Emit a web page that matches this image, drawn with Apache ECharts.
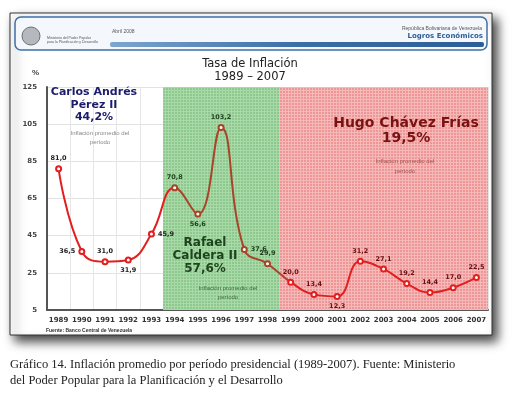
<!DOCTYPE html>
<html>
<head>
<meta charset="utf-8">
<script src="https://cdn.jsdelivr.net/npm/echarts@6/dist/echarts.min.js"></script>
<style>
  html, body { margin: 0; padding: 0; background: #fff; }
  #main { width: 516px; height: 396px; }
</style>
</head>
<body>
<div id="main"></div>
<script>
// datos
var years = ['1989','1990','1991','1992','1993','1994','1995','1996','1997','1998',
             '1999','2000','2001','2002','2003','2004','2005','2006','2007'];
var inflacion = [81.0, 36.5, 31.0, 31.9, 45.9, 70.8, 56.6, 103.2, 37.6, 29.9,
                 20.0, 13.4, 12.3, 31.2, 27.1, 19.2, 14.4, 17.0, 22.5];
var labelPos = ['top','left','top','bottom','right','top','bottom','top','right','top',
                'top','top','bottom','top','top','top','top','top','top'];
var yTicks = [5, 25, 45, 65, 85, 105, 125];
// periodos presidenciales (indice de inicio y fin de banda)
var periodoCaldera = [5, 10];
var periodoChavez = [10, 19];

function pattern(base, line) {
  var c = document.createElement('canvas');
  c.width = 3; c.height = 3;
  var ctx = c.getContext('2d');
  ctx.fillStyle = base; ctx.fillRect(0, 0, 3, 3);
  ctx.fillStyle = line;
  ctx.fillRect(0, 0, 3, 1);
  ctx.fillRect(0, 0, 1, 3);
  return c;
}

var myChart = echarts.init(document.getElementById('main'));

var labelColor = function (i) {
  if (i >= periodoCaldera[0] && i < periodoCaldera[1]) return '#1e3f1e';
  if (i >= periodoChavez[0]) return '#6a0f0f';
  return '#222';
};

var serieData = inflacion.map(function (v, i) {
  return {
    value: v,
    label: { position: labelPos[i], color: labelColor(i) }
  };
});

// texto centrado en (x, y)
function texto(x, y, txt, st) {
  var style = { text: txt, align: 'center', verticalAlign: 'middle', fontFamily: 'DejaVu Sans' };
  for (var k in st) style[k] = st[k];
  return { type: 'text', z: 10, x: x, y: y, style: style };
}

var option = {
  animation: false,
  backgroundColor: '#fff',
  grid: { left: 47, right: 28, top: 87, bottom: 86, containLabel: false },
  xAxis: [{
    type: 'category',
    data: years,
    boundaryGap: true,
    axisLine: { lineStyle: { color: '#555', width: 2 } },
    axisTick: { show: false },
    axisLabel: { interval: 0, color: '#333', fontSize: 7, fontWeight: 'bold', margin: 7, fontFamily: 'DejaVu Sans' },
    splitLine: { show: true, lineStyle: { color: '#e6e6e6' } }
  }, {
    type: 'value', min: 0, max: 19, show: false
  }],
  yAxis: {
    type: 'value',
    min: yTicks[0],
    max: yTicks[yTicks.length - 1],
    interval: 20,
    name: '%',
    nameLocation: 'end',
    nameGap: 10,
    nameTextStyle: { color: '#444', fontSize: 8, fontWeight: 'bold', align: 'right', padding: [0, 8, 0, 0] },
    axisLine: { show: true, lineStyle: { color: '#555', width: 2 } },
    axisTick: { show: false },
    axisLabel: { color: '#444', fontSize: 7, fontWeight: 'bold', margin: 10, fontFamily: 'DejaVu Sans' },
    splitLine: { lineStyle: { color: '#e2e2e2' } }
  },
  visualMap: {
    show: false,
    type: 'piecewise',
    dimension: 0,
    seriesIndex: 1,
    pieces: [
      { lt: 4.5, color: '#e41e1e' },
      { gte: 4.5, lt: 9.5, color: '#a8442a' },
      { gte: 9.5, color: '#e41e1e' }
    ]
  },
  series: [{
    type: 'line',
    xAxisIndex: 1,
    data: [],
    silent: true,
    z: 1,
    markArea: {
      silent: true,
      data: [
        [{ xAxis: periodoCaldera[0], itemStyle: { color: { image: pattern('#8dc88d', '#a9d9a9'), repeat: 'repeat' } } },
         { xAxis: periodoCaldera[1] }],
        [{ xAxis: periodoChavez[0], itemStyle: { color: { image: pattern('#ee9696', '#f6b9b9'), repeat: 'repeat' } } },
         { xAxis: periodoChavez[1] }]
      ]
    }
  }, {
    type: 'line',
    data: serieData,
    smooth: 0.45,
    z: 5,
    symbol: 'emptyCircle',
    symbolSize: 5,
    lineStyle: { width: 2 },
    itemStyle: { borderColor: '#d06060', color: '#f3c0c0', borderWidth: 1 },
    label: {
      show: true,
      fontSize: 6.5,
      fontWeight: 'bold',
      fontFamily: 'DejaVu Sans',
      distance: 3,
      formatter: function (p) { return p.value.toFixed(1).replace('.', ','); }
    }
  }],
  graphic: [
    // marco con sombra
    { type: 'rect', z: -10, shape: { x: 10, y: 13, width: 482, height: 322 },
      style: { fill: '#fff', stroke: '#333', lineWidth: 1, shadowBlur: 10, shadowOffsetX: 5, shadowOffsetY: 6, shadowColor: 'rgba(0,0,0,0.75)' } },
    // cabecera
    { type: 'rect', z: -5, shape: { x: 15, y: 17, width: 472, height: 33, r: 6 },
      style: { fill: '#f4f8fc', stroke: '#3d6fa8', lineWidth: 1.5 } },
    { type: 'rect', z: -4, shape: { x: 110, y: 42, width: 374, height: 5, r: 2 },
      style: { fill: new echarts.graphic.LinearGradient(0, 0, 1, 0, [
        { offset: 0, color: '#7ea6cf' }, { offset: 0.5, color: '#3c6ea8' }, { offset: 1, color: '#2d5d96' }]) } },
    { type: 'circle', z: -4, shape: { cx: 31, cy: 36, r: 9 }, style: { fill: '#b5b9bd', stroke: '#6b7075', lineWidth: 1 } },
    { type: 'text', z: -3, left: 47, top: 36, style: { text: 'Ministerio del Poder Popular\npara la Planificación y Desarrollo', fontSize: 3.5, fill: '#555', lineHeight: 4 } },
    { type: 'text', z: -3, left: 112, top: 29, style: { text: 'Abril 2008', fontSize: 5, fill: '#555' } },
    { type: 'text', z: -3, right: 34, top: 26, style: { text: 'República Bolivariana de Venezuela', fontSize: 5, fill: '#555' } },
    { type: 'text', z: -3, right: 33, top: 33, style: { text: 'Logros Económicos', fontSize: 7, fontWeight: 'bold', fill: '#2d5d96', fontFamily: 'DejaVu Sans' } },
    // titulo
    texto(250, 71, 'Tasa de Inflación\n1989 – 2007', { fontSize: 11.5, fill: '#222', lineHeight: 13, fontWeight: 'normal' }),
    // anotaciones
    texto(94, 105, 'Carlos Andrés\nPérez II\n44,2%', { fontSize: 11, fontWeight: 'bold', fill: '#1c1c6c', lineHeight: 12.5 }),
    texto(100, 138, 'Inflación promedio del\nperíodo', { fontSize: 6, fill: '#888', lineHeight: 9, fontFamily: 'Liberation Sans' }),
    texto(205, 256, 'Rafael\nCaldera II\n57,6%', { fontSize: 12, fontWeight: 'bold', fill: '#1d441d', lineHeight: 13 }),
    texto(228, 293, 'Inflación promedio del\nperíodo', { fontSize: 6, fill: '#3d6a3d', lineHeight: 9, fontFamily: 'Liberation Sans' }),
    texto(406, 131, 'Hugo Chávez Frías\n19,5%', { fontSize: 14, fontWeight: 'bold', fill: '#7a1212', lineHeight: 15 }),
    texto(405, 166, 'Inflación promedio del\nperíodo', { fontSize: 6, fill: '#a45050', lineHeight: 10, fontFamily: 'Liberation Sans' }),
    // fuente
    { type: 'text', left: 46, top: 328, style: { text: 'Fuente: Banco Central de Venezuela', fontSize: 5, fontWeight: 'bold', fill: '#333' } },
    // pie de grafico
    { type: 'text', left: 10, top: 357, style: { text: 'Gráfico 14. Inflación promedio por período presidencial (1989-2007). Fuente: Ministerio\ndel Poder Popular para la Planificación y el Desarrollo', fontSize: 12.5, fill: '#222', lineHeight: 16, fontFamily: 'Liberation Serif' } }
  ]
};

myChart.setOption(option);
</script>
</body>
</html>
